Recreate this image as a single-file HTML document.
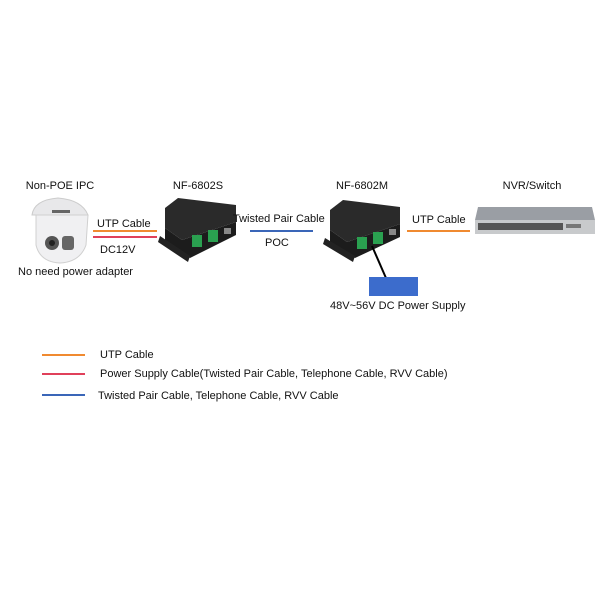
<!DOCTYPE html>
<html><head><style>
body{margin:0;background:#fff;}
svg text{font-family:"Liberation Sans",Arial,sans-serif;fill:#111;}
</style></head><body>
<svg width="600" height="600" viewBox="0 0 600 600">
<rect width="600" height="600" fill="#fff"/>
<!-- titles -->
<text x="60" y="189" font-size="11" text-anchor="middle">Non-POE IPC</text>
<text x="198" y="189" font-size="11" text-anchor="middle">NF-6802S</text>
<text x="362" y="189" font-size="11" text-anchor="middle">NF-6802M</text>
<text x="532" y="189" font-size="11" text-anchor="middle">NVR/Switch</text>
<!-- camera -->
<path d="M32 215 Q34 200 58 198 Q82 200 88 215 Z" fill="#e8e8ea" stroke="#ccc"/>
<rect x="52" y="210" width="18" height="3" fill="#666"/>
<path d="M36 215 L88 215 L86 245 Q80 262 60 263 Q40 262 36 245 Z" fill="#f0f0f2" stroke="#d0d0d0"/>
<circle cx="52" cy="243" r="7" fill="#555"/><circle cx="52" cy="243" r="3" fill="#222"/>
<rect x="62" y="236" width="12" height="14" rx="3" fill="#666"/>
<text x="18" y="275" font-size="11">No need power adapter</text>
<!-- left cables -->
<text x="97" y="227" font-size="11">UTP Cable</text>
<line x1="93" y1="231" x2="157" y2="231" stroke="#f08a30" stroke-width="2"/>
<line x1="93" y1="237" x2="157" y2="237" stroke="#e0405a" stroke-width="2"/>
<text x="100" y="253" font-size="11">DC12V</text>
<!-- box S -->
<polygon points="165,208 178,198 236,205 236,222 182,240 165,228" fill="#2a2a2a"/>
<polygon points="165,228 182,240 236,222 236,235 190,258 165,240" fill="#1c1c1c"/>
<polygon points="160,236 190,256 188,262 158,242" fill="#222"/>
<rect x="192" y="235" width="10" height="12" fill="#2aa050"/>
<rect x="208" y="230" width="10" height="12" fill="#2aa050"/>
<rect x="224" y="228" width="7" height="6" fill="#888"/>
<!-- middle -->
<text x="233" y="222" font-size="11">Twisted Pair Cable</text>
<line x1="250" y1="231" x2="313" y2="231" stroke="#3a66b8" stroke-width="2"/>
<text x="265" y="246" font-size="11">POC</text>
<!-- box M -->
<polygon points="330,210 343,200 400,207 400,224 347,242 330,230" fill="#2a2a2a"/>
<polygon points="330,230 347,242 400,224 400,237 355,258 330,242" fill="#1c1c1c"/>
<polygon points="325,238 355,256 353,262 323,244" fill="#222"/>
<rect x="357" y="237" width="10" height="12" fill="#2aa050"/>
<rect x="373" y="232" width="10" height="12" fill="#2aa050"/>
<rect x="389" y="229" width="7" height="6" fill="#888"/>
<line x1="372" y1="246" x2="386" y2="278" stroke="#000" stroke-width="2"/>
<rect x="369" y="277" width="49" height="19" fill="#3c6ccc"/>
<text x="330" y="309" font-size="11">48V~56V DC Power Supply</text>
<!-- right -->
<text x="412" y="223" font-size="11">UTP Cable</text>
<line x1="407" y1="231" x2="470" y2="231" stroke="#f08a30" stroke-width="2"/>
<polygon points="478,207 592,207 595,220 475,220" fill="#9a9ea4"/>
<rect x="475" y="220" width="120" height="14" fill="#c8cacc"/>
<rect x="478" y="223" width="85" height="7" fill="#555"/>
<rect x="566" y="224" width="15" height="4" fill="#777"/>
<!-- legend -->
<line x1="42" y1="355" x2="85" y2="355" stroke="#f08a30" stroke-width="2"/>
<text x="100" y="358" font-size="11">UTP Cable</text>
<line x1="42" y1="374" x2="85" y2="374" stroke="#e0405a" stroke-width="2"/>
<text x="100" y="377" font-size="11">Power Supply Cable(Twisted Pair Cable, Telephone Cable, RVV Cable)</text>
<line x1="42" y1="395" x2="85" y2="395" stroke="#3a66b8" stroke-width="2"/>
<text x="98" y="399" font-size="11">Twisted Pair Cable, Telephone Cable, RVV Cable</text>
</svg>
</body></html>
